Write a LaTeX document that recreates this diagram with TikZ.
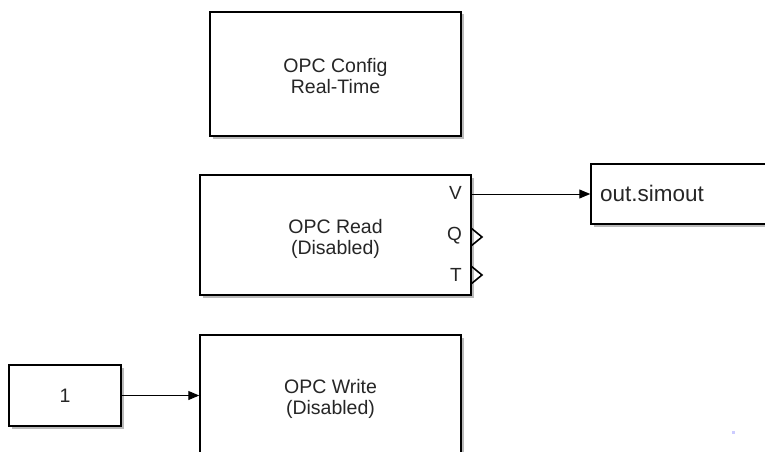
\documentclass[tikz,border=0pt]{standalone}
\usepackage{fontspec}
\setmainfont{Liberation Sans}
\usetikzlibrary{arrows.meta,shadows}
\tikzset{
  blk/.style={draw=black,line width=1.5pt,fill=white,
    drop shadow={shadow xshift=2.5pt,shadow yshift=-2.5pt,opacity=0.45,fill=black!60}},
  sig/.style={line width=1pt,-{Triangle[length=11pt,width=9pt]}},
  lbl/.style={font=\fontsize{19.5}{21}\selectfont,align=center,text=black!85,inner sep=0pt},
  prt/.style={font=\fontsize{19}{21}\selectfont,anchor=east,text=black!85,inner sep=0pt},
  chev/.style={line width=1.6pt,line join=miter}
}
\begin{document}
\begin{tikzpicture}[x=1pt,y=-1pt]
\useasboundingbox (0,0) rectangle (765,452);
\clip (0,0) rectangle (765,452);
% Config
\node[blk,minimum width=251pt,minimum height=124pt,inner sep=0pt] (cfg) at (335.5,74) {};
\node[lbl] (cfgt) at (335.5,76) {OPC Config\\Real-Time};
% Read
\node[blk,minimum width=271pt,minimum height=120pt,inner sep=0pt] (rd) at (335.5,235) {};
\node[lbl] (rdt) at (335.5,238.5) {OPC Read\\(Disabled)};
\node[prt] (pv) at (462,193) {V};
\node[prt] (pq) at (462,236) {Q};
\node[prt] (pt) at (462,275) {T};
\coordinate (vout) at (471,194);
\draw[chev] (471,228) -- (482,237) -- (471,246);
\draw[chev] (471,266) -- (482,275) -- (471,284);
% out.simout
\node[blk,minimum width=190pt,minimum height=60pt,inner sep=0pt] (out) at (686,194) {};
\node[font=\fontsize{22.5}{25}\selectfont,text=black!85,inner sep=0pt] (outt) at (652,193) {out.simout};
\draw[sig] (vout) -- (out.west);
% Constant
\node[blk,minimum width=112pt,minimum height=61pt,inner sep=0pt] (c1) at (65,395.5) {};
\node[lbl] (c1t) at (65,395.5) {1};
% Write
\node[blk,minimum width=261pt,minimum height=140pt,inner sep=0pt] (wr) at (330.5,405) {};
\node[lbl] (wrt) at (330.5,398.5) {OPC Write\\(Disabled)};
\draw[sig] (c1.east) -- (c1.east -| wr.west);
% artifact dot
\fill[blue!20] (731.5,430.5) rectangle (735,434);
\end{tikzpicture}
\end{document}
